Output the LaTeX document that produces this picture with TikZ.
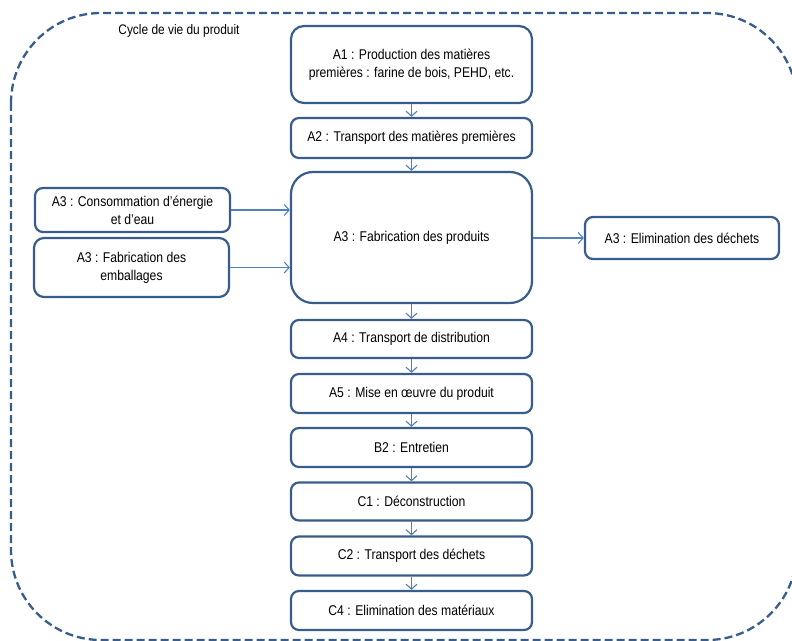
\documentclass[tikz,border=0pt]{standalone}
\usepackage{fontspec}
\setmainfont{Liberation Sans}[FakeStretch=0.86]
\usetikzlibrary{arrows.meta}

\definecolor{cadreblue}{RGB}{56,93,138}
\definecolor{flecheblue}{RGB}{79,129,189}

\tikzset{
  etape/.style={draw=cadreblue, line width=2.2bp, rounded corners=8bp, fill=white,
    align=center, inner sep=2bp, minimum width=241bp, font=\fontsize{14.2}{18}\selectfont},
  entree/.style={etape, minimum width=195bp},
  fleche/.style={draw=flecheblue, line width=1.1bp, -{Straight Barb[length=5bp,width=11bp]}}
}

\begin{document}
\begin{tikzpicture}[x=1bp, y=-1bp]
\useasboundingbox (0,0) rectangle (792,641);
\clip (0,0) rectangle (792,641);
% Cadre du cycle de vie
\draw[cadreblue, line width=2.3bp, dash pattern=on 8bp off 4bp, rounded corners=90bp]
  (11,13) rectangle (797,640);
\node[font=\fontsize{13.9}{16}\selectfont] (titre) at (179,31) {Cycle de vie du produit};

% Etapes principales
\node[etape, minimum height=77bp, rounded corners=13bp] (a1) at (411.5,64.5)
  {A1 : Production des matières\\premières : farine de bois, PEHD, etc.};
\node[etape, minimum height=40bp] (a2) at (411.5,138) {A2 : Transport des matières premières};
\node[etape, minimum height=131bp, rounded corners=22bp] (fab) at (411.5,237.5) {A3 : Fabrication des produits};
\node[etape, minimum height=38bp] (a4) at (411.5,339) {A4 : Transport de distribution};
\node[etape, minimum height=39bp] (a5) at (411.5,393.5) {A5 : Mise en œuvre du produit};
\node[etape, minimum height=39bp] (b2) at (411.5,447.5) {B2 : Entretien};
\node[etape, minimum height=38bp] (c1) at (411.5,501.5) {C1 : Déconstruction};
\node[etape, minimum height=39bp] (c2) at (411.5,556) {C2 : Transport des déchets};
\node[etape, minimum height=39bp] (c4) at (411.5,610.5) {C4 : Elimination des matériaux};

% Entrees et sortie de la fabrication
\node[entree, minimum height=44bp] (energie) at (132.5,210) {A3 : Consommation d’énergie\\et d’eau};
\node[entree, minimum height=59bp, rounded corners=10bp] (emballages) at (131.5,267.5) {A3 : Fabrication des\\emballages};
\node[entree, minimum width=194bp, minimum height=42bp] (dechets) at (682,238) {A3 : Elimination des déchets};

% Fleches
\foreach \de/\vers in {a1/a2, a2/fab, fab/a4, a4/a5, a5/b2, b2/c1, c1/c2, c2/c4}
  \draw[fleche] (\de.south) -- (\vers.north);
\draw[fleche] (energie.east) -- (energie.east -| fab.west);
\draw[fleche] (emballages.east) -- (emballages.east -| fab.west);
\draw[fleche] (dechets.west -| fab.east) -- (dechets.west);
\end{tikzpicture}
\end{document}
